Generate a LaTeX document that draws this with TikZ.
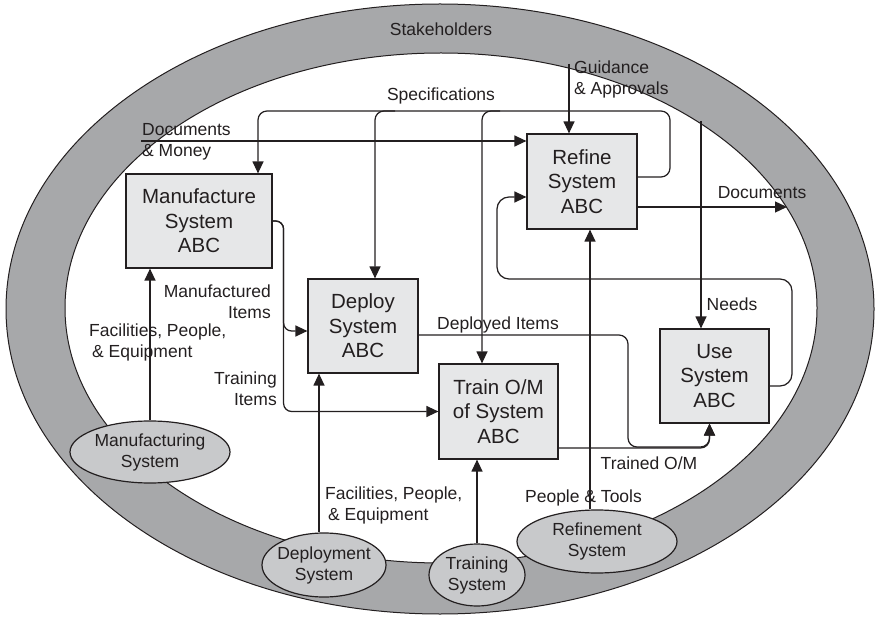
\documentclass[tikz,border=0pt]{standalone}
\usepackage{fontspec}
\setmainfont{Liberation Sans}
\usetikzlibrary{arrows.meta,shapes.geometric}
\definecolor{ringgray}{HTML}{A7A8AA}
\definecolor{boxfill}{HTML}{E6E7E8}
\definecolor{sysfill}{HTML}{C8C9CB}
\definecolor{ink}{HTML}{231F20}

\begin{document}
\begin{tikzpicture}[x=1pt,y=-1pt,
  font=\fontsize{17.5}{21}\selectfont,
  proc/.style={draw=ink, fill=boxfill, line width=1.2pt, align=center,
    inner sep=0pt, text=ink, font=\fontsize{20.5}{24.5}\selectfont},
  sys/.style={ellipse, draw=ink, fill=sysfill, line width=1.2pt, align=center,
    inner xsep=-5pt, inner ysep=0pt, text=ink},
  flow/.style={draw=ink, line width=1.25pt, rounded corners=9pt,
    -{Triangle[length=12pt,width=11pt]}},
  lbl/.style={inner sep=0pt, text=ink}
]
\useasboundingbox (0,0) rectangle (880,617);

% stakeholder ring
\fill[ringgray, even odd rule]
  (440,309) ellipse [x radius=434pt, y radius=305pt]
  (441,308) ellipse [x radius=376pt, y radius=255pt];
\draw[ink, line width=1pt] (440,309) ellipse [x radius=434pt, y radius=305pt];
\draw[ink, line width=1pt] (441,308) ellipse [x radius=376pt, y radius=255pt];
\node[lbl] (stk) at (441,29) {Stakeholders};

% process boxes
\node[proc, minimum width=146pt, minimum height=94pt] (man) at (199,221) {Manufacture\\System\\ABC};
\node[proc, minimum width=110pt, minimum height=94pt] (dep) at (363,326) {Deploy\\System\\ABC};
\node[proc, minimum width=110pt, minimum height=95pt] (ref) at (582,181.5) {Refine\\System\\ABC};
\node[proc, minimum width=119pt, minimum height=95pt] (trn) at (498.5,411.5) {Train O/M\\of System\\ABC};
\node[proc, minimum width=109pt, minimum height=94pt] (use) at (714.5,376) {Use\\System\\ABC};

% supporting systems
\node[sys, minimum width=160pt, minimum height=62pt] (mfs) at (150,452) {Manufacturing\\System};
\node[sys, minimum width=124pt, minimum height=64pt] (dps) at (324,565) {Deployment\\System};
\node[sys, minimum width=96pt, minimum height=62pt] (trs) at (477,575) {Training\\System};
\node[sys, minimum width=160pt, minimum height=63pt] (rfs) at (597,541.5) {Refinement\\System};

% free ends at the ring
\coordinate (dmIn) at (141,141);
\coordinate (gaIn) at (569,64);
\coordinate (docOut) at (787,207);
\coordinate (ndIn) at (701,121);

% flows from and to the stakeholders
\draw[flow] (dmIn) -- (dmIn -| ref.west);
\draw[flow] (gaIn) -- (gaIn |- ref.north);
\draw[flow] (ref.east |- docOut) -- (docOut);
\draw[flow] (ndIn) -- (ndIn |- use.north);

% specifications
\draw[flow] ([yshift=4.5pt]ref.east) -- (670,177) -- (670,111) -- (258,111) -- ([xshift=59pt]man.north);
\draw[flow] (395,111) -| ([xshift=12pt]dep.north);
\draw[flow] (500,111) -| ([xshift=-16.5pt]trn.north);

% items between the processes
\draw[flow, rounded corners=8pt] (man.east) -- ++(11,0) |- ([yshift=-5pt]dep.west);
\draw[flow, rounded corners=8pt] (man.east) -- ++(11,0) |- (trn.west);
\draw[flow] ([yshift=-9pt]dep.east) -| (628,447) -| ([xshift=-5pt]use.south);
\draw[flow] ([yshift=-36.5pt]trn.east) -| ([xshift=-5pt]use.south);
\draw[flow, rounded corners=12pt] ([yshift=-10pt]use.east) -| (792,279) -- (497,279) |- ([yshift=-15.5pt]ref.west);

% resources from the supporting systems
\draw[flow] (mfs.north) -- (mfs.north |- man.south);
\draw[flow] ([xshift=-5pt]dps.north) -- ([xshift=-5pt]dps.north |- dep.south);
\draw[flow] (trs.north) -- (trs.north |- trn.south);
\draw[flow] ([xshift=-7pt]rfs.north) -- ([xshift=-7pt]rfs.north |- ref.south);

% flow labels
\node[lbl, anchor=west, align=left] (lDM) at (142,141.5) {Documents\\\& Money};
\node[lbl] (lSpec) at (441,96) {Specifications};
\node[lbl, anchor=west, align=left] (lGA) at (574,79.5) {Guidance\\\& Approvals};
\node[lbl] (lDoc) at (762,193) {Documents};
\node[lbl] (lNeeds) at (732,304) {Needs};
\node[lbl, anchor=east, align=right] (lMI) at (271,302) {Manufactured\\Items};
\node[lbl, anchor=east, align=right] (lTI) at (277,389) {Training\\Items};
\node[lbl, anchor=west, align=left] (lFPEa) at (89,342.5) {Facilities, People,\\\hspace*{3pt}\& Equipment};
\node[lbl, anchor=west, align=left] (lFPEb) at (325,505) {Facilities, People,\\\hspace*{3pt}\& Equipment};
\node[lbl] (lPT) at (583.5,498) {People \& Tools};
\node[lbl] (lDI) at (498,325) {Deployed Items};
\node[lbl] (lTO) at (649,463) {Trained O/M};
\end{tikzpicture}
\end{document}
